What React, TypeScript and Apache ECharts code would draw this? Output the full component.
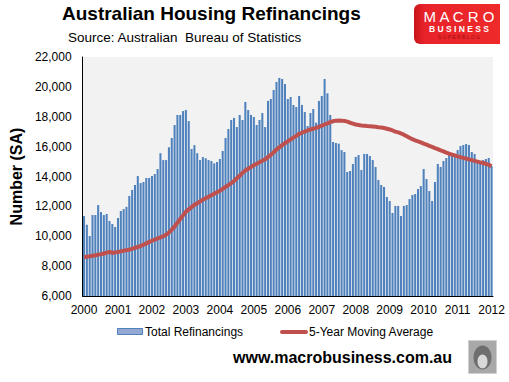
import React, { useEffect, useRef } from "react";
import * as echarts from "echarts";

const years = ["2000", "2001", "2002", "2003", "2004", "2005", "2006", "2007", "2008", "2009", "2010", "2011", "2012"];

// Monthly total refinancings, Jan 2000 .. Jan 2012
const refin2000 = [11350, 10770, 10020, 11420, 11420, 12090, 11620, 11420, 11490, 11020, 10820, 10620];
const refin2001 = [11220, 11690, 11820, 11970, 12700, 13100, 13430, 14030, 13560, 13630, 13900, 13900];
const refin2002 = [14030, 14170, 14500, 15560, 15100, 15100, 15960, 16580, 17450, 18120, 18120, 18380];
const refin2003 = [18450, 17710, 15840, 16100, 15560, 15100, 15300, 15220, 15100, 15040, 14880, 14970];
const refin2004 = [15170, 15710, 16580, 17180, 17780, 17920, 17310, 18120, 17780, 18990, 18450, 18120];
const refin2005 = [17980, 17450, 17780, 18250, 17310, 19060, 19190, 19790, 20330, 20600, 20530, 20190];
const refin2006 = [19190, 19320, 18790, 18650, 19390, 18790, 18320, 17380, 18250, 18520, 17600, 19060];
const refin2007 = [19390, 20530, 19570, 18120, 16310, 16240, 16200, 15770, 15640, 14300, 14370, 14840];
const refin2008 = [15310, 15440, 14440, 15510, 15510, 15370, 15100, 14640, 13770, 13430, 13300, 12630];
const refin2009 = [12360, 11560, 12030, 12030, 11360, 12030, 12090, 12490, 12760, 12830, 13160, 13360];
const refin2010 = [14500, 13830, 13030, 12360, 13630, 14840, 14640, 15040, 15240, 15440, 15440, 15300];
const refin2011 = [15770, 16040, 16110, 16180, 16110, 15640, 15510, 15040, 14970, 15100, 15170, 15240];
const refin2012 = [14700];

// 5-year moving average, Jan 2000 .. Jan 2012
const ma2000 = [8600, 8630, 8660, 8700, 8730, 8770, 8800, 8840, 8900, 8950, 8880, 8920];
const ma2001 = [8950, 8990, 9030, 9070, 9100, 9160, 9220, 9280, 9350, 9430, 9520, 9610];
const ma2002 = [9700, 9770, 9850, 9920, 10000, 10100, 10250, 10450, 10650, 10900, 11150, 11400];
const ma2003 = [11650, 11800, 11950, 12100, 12200, 12330, 12450, 12550, 12650, 12750, 12850, 12950];
const ma2004 = [13050, 13170, 13300, 13420, 13550, 13700, 13880, 14050, 14250, 14400, 14520, 14640];
const ma2005 = [14750, 14850, 14950, 15050, 15150, 15300, 15450, 15620, 15800, 15950, 16100, 16230];
const ma2006 = [16350, 16480, 16600, 16720, 16850, 16930, 17000, 17080, 17150, 17200, 17260, 17330];
const ma2007 = [17400, 17480, 17560, 17640, 17700, 17740, 17750, 17740, 17720, 17670, 17600, 17540];
const ma2008 = [17480, 17450, 17420, 17400, 17380, 17370, 17350, 17330, 17300, 17280, 17250, 17200];
const ma2009 = [17150, 17080, 17000, 16950, 16880, 16800, 16700, 16600, 16500, 16420, 16350, 16280];
const ma2010 = [16200, 16130, 16050, 15980, 15900, 15830, 15750, 15680, 15600, 15530, 15470, 15410];
const ma2011 = [15350, 15300, 15250, 15200, 15150, 15100, 15050, 15000, 14950, 14900, 14850, 14780];
const ma2012 = [14700];

const yTicks = { min: 6000, max: 22000, interval: 2000 };

const refinancings = [
  ...refin2000, ...refin2001, ...refin2002, ...refin2003, ...refin2004, ...refin2005, ...refin2006,
  ...refin2007, ...refin2008, ...refin2009, ...refin2010, ...refin2011, ...refin2012,
];
const movingAvg = [
  ...ma2000, ...ma2001, ...ma2002, ...ma2003, ...ma2004, ...ma2005, ...ma2006,
  ...ma2007, ...ma2008, ...ma2009, ...ma2010, ...ma2011, ...ma2012,
];
const months: string[] = refinancings.map((_, i) => {
  const y = years[Math.floor(i / 12)];
  const m = String((i % 12) + 1).padStart(2, "0");
  return `${y}-${m}`;
});

const FONT = "'Liberation Sans', Arial, sans-serif";

export default function App() {
  const ref = useRef<HTMLDivElement>(null);
  useEffect(() => {
    document.body.style.margin = "0";
    const chart = echarts.init(ref.current!, undefined, { renderer: "svg" });
    chart.setOption({
      animation: false,
      backgroundColor: "#ffffff",
      grid: {
        left: 71,
        right: 16,
        top: 57,
        bottom: 86,
        show: true,
        backgroundColor: "#f2f2f2",
        borderWidth: 0,
      },
      xAxis: {
        type: "category",
        data: months,
        boundaryGap: true,
        axisLine: { show: true, lineStyle: { color: "#000", width: 1 } },
        axisTick: { show: false },
        axisLabel: {
          interval: (idx: number) => idx % 12 === 0,
          formatter: (v: string) => v.slice(0, 4),
          color: "#000",
          fontSize: 12,
          fontFamily: FONT,
          margin: 8,
        },
        splitLine: { show: false },
      },
      yAxis: {
        type: "value",
        min: yTicks.min,
        max: yTicks.max,
        interval: yTicks.interval,
        name: "Number (SA)",
        nameLocation: "middle",
        nameRotate: 90,
        nameGap: 56,
        nameTextStyle: { fontFamily: FONT, fontWeight: "bold", fontSize: 16, color: "#000" },
        axisLine: { show: true, lineStyle: { color: "#000", width: 1 } },
        axisTick: { show: false },
        splitLine: { show: false },
        axisLabel: {
          color: "#000",
          fontSize: 12,
          fontFamily: FONT,
          margin: 11,
          formatter: (v: number) => v.toLocaleString("en-US"),
        },
      },
      series: [
        {
          name: "Total Refinancings",
          type: "bar",
          data: refinancings,
          barCategoryGap: "28%",
          itemStyle: { color: "#4f81bd" },
          z: 2,
        },
        {
          name: "5-Year Moving Average",
          type: "line",
          data: movingAvg,
          symbol: "none",
          smooth: false,
          lineStyle: { color: "#c0504d", width: 4 },
          z: 3,
        },
      ],
      graphic: [
        {
          type: "text",
          left: 62,
          top: 4,
          style: {
            text: "Australian Housing Refinancings",
            font: `bold 19px ${FONT}`,
            fill: "#000",
          },
        },
        {
          type: "text",
          left: 68,
          top: 30,
          style: {
            text: "Source: Australian  Bureau of Statistics",
            font: `13.5px ${FONT}`,
            fill: "#000",
          },
        },
        {
          type: "group",
          left: 414,
          top: 4,
          children: [
            {
              type: "rect",
              shape: { x: 0, y: 0, width: 86, height: 40, r: [6, 0, 0, 6] },
              style: {
                fill: new echarts.graphic.LinearGradient(0, 0, 1, 0, [
                  { offset: 0, color: "#c8141a" },
                  { offset: 0.12, color: "#e8232a" },
                  { offset: 1, color: "#ee2a2a" },
                ]),
              },
            },
            {
              type: "text",
              x: 45,
              y: 12,
              style: {
                text: "M A C R O",
                font: `15px ${FONT}`,
                fill: "#ffffff",
                align: "center",
                verticalAlign: "middle",
              },
            },
            {
              type: "text",
              x: 45,
              y: 24.5,
              style: {
                text: "B U S I N E S S",
                font: `bold 8.5px ${FONT}`,
                fill: "#ffffff",
                align: "center",
                verticalAlign: "middle",
              },
            },
            {
              type: "text",
              x: 45,
              y: 33,
              style: {
                text: "S U P E R B L O G",
                font: `5px ${FONT}`,
                fill: "#9a1010",
                align: "center",
                verticalAlign: "middle",
              },
            },
          ],
        },
        {
          type: "rect",
          shape: { x: 117.5, y: 328.5, width: 25, height: 6 },
          style: { fill: "#93a9d4", stroke: "#4f81bd", lineWidth: 1 },
        },
        {
          type: "text",
          x: 145,
          y: 332,
          style: {
            text: "Total Refinancings",
            font: `12px ${FONT}`,
            fill: "#000",
            verticalAlign: "middle",
          },
        },
        {
          type: "line",
          shape: { x1: 282, y1: 332, x2: 306, y2: 332 },
          style: { stroke: "#c0504d", lineWidth: 4, lineCap: "round" },
        },
        {
          type: "text",
          x: 309,
          y: 332,
          style: {
            text: "5-Year Moving Average",
            font: `12px ${FONT}`,
            fill: "#000",
            verticalAlign: "middle",
          },
        },
        {
          type: "text",
          x: 233,
          y: 357,
          style: {
            text: "www.macrobusiness.com.au",
            font: `bold 16px ${FONT}`,
            fill: "#000",
            verticalAlign: "middle",
          },
        },
        {
          type: "group",
          left: 468,
          top: 340,
          children: [
            {
              type: "rect",
              shape: { x: 0, y: 0, width: 28, height: 33 },
              style: { fill: "#a8a8a8", stroke: "#d0d0d0", lineWidth: 1 },
            },
            {
              type: "ellipse",
              shape: { cx: 14, cy: 17, rx: 9, ry: 12 },
              style: { fill: "#6e6e6e" },
            },
            {
              type: "ellipse",
              shape: { cx: 14, cy: 21, rx: 5, ry: 7 },
              style: { fill: "#d8d8d8" },
            },
          ],
        },
      ],
    });
    return () => chart.dispose();
  }, []);
  return (
    <div
      ref={ref}
      style={{ position: "fixed", left: 0, top: 0, width: 509, height: 382 }}
    />
  );
}
